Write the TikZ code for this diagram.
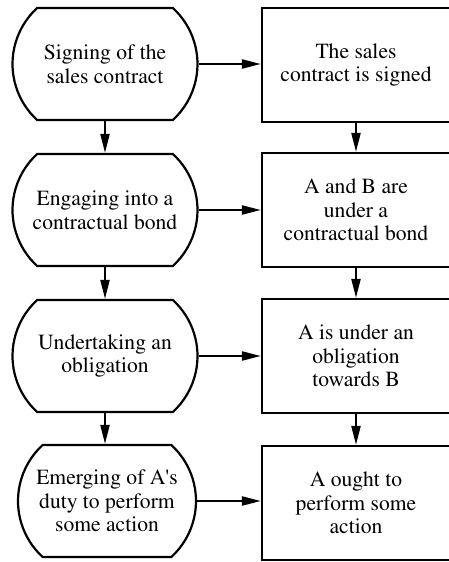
\documentclass[tikz,border=0pt]{standalone}
\usepackage[T1]{fontenc}
\usepackage{mathptmx}
\usepackage{tikz}
\usetikzlibrary{shapes,arrows.meta}

\tikzset{
  event/.style={rounded rectangle, rounded rectangle arc length=95, draw,
    line width=1.1pt, minimum width=96.5pt, minimum height=56pt,
    inner sep=2pt, align=center},
  state/.style={rectangle, draw, line width=1.1pt, minimum width=94pt,
    minimum height=57pt, inner sep=2pt, align=center},
  link/.style={line width=1.1pt, -{Triangle[length=9.5pt,width=4.5pt]}}
}

\begin{document}
\begin{tikzpicture}[x=0.5pt,y=-0.5pt,font=\rmfamily\fontsize{10.8}{11.8}\selectfont]
  \useasboundingbox (0,0) rectangle (449,562);
  % left column: what happens
  \node[event] (e1) at (105,64)  {Signing of the\\sales contract};
  \node[event] (e2) at (105,210) {Engaging into a\\contractual bond};
  \node[event] (e3) at (105,356) {Undertaking an\\obligation};
  \node[event, minimum width=93pt] (e4) at (107,501) {Emerging of A\textquotesingle s\\duty to perform\\some action};
  % right column: what holds
  \node[state] (s1) at (356,65)  {The sales\\contract is signed};
  \node[state] (s2) at (356,210) {A and B are\\under a\\contractual bond};
  \node[state] (s3) at (356,356) {A is under an\\obligation\\towards B};
  \node[state] (s4) at (356,503) {A ought to\\perform some\\action};
  % connectors
  \foreach \i in {1,2,3,4}
    \draw[link] (e\i.east) -- (s\i.west |- e\i.east);
  \foreach \i/\j in {1/2,2/3,3/4}
    {
      \draw[link] (e\i.south -| e1.center) -- (e\j.north -| e1.center);
      \draw[link] (s\i.south) -- (s\j.north);
    }
\end{tikzpicture}
\end{document}
